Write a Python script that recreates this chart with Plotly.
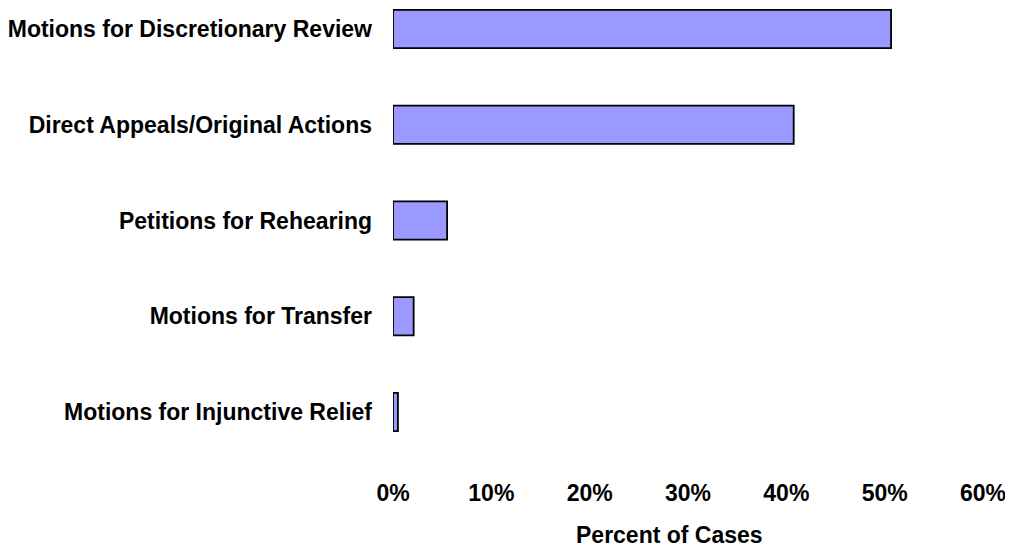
import plotly.graph_objects as go

categories = [
    "Motions for Discretionary Review",
    "Direct Appeals/Original Actions",
    "Petitions for Rehearing",
    "Motions for Transfer",
    "Motions for Injunctive Relief",
]
percent_of_cases = [50.65, 40.75, 5.5, 2.1, 0.5]
x_ticks = [0, 10, 20, 30, 40, 50, 60]
x_tick_labels = ["0%", "10%", "20%", "30%", "40%", "50%", "60%"]
x_title = "Percent of Cases"

FONT = "Liberation Sans, Arial, sans-serif"
FS = 23

fig = go.Figure(
    go.Bar(
        x=percent_of_cases,
        y=categories,
        orientation="h",
        marker=dict(color="#9999FF", line=dict(color="black", width=1.8)),
        width=0.4,
        hoverinfo="skip",
    )
)

fig.update_layout(
    width=1013,
    height=546,
    margin=dict(l=385, r=38, t=0, b=94, autoexpand=False),
    paper_bgcolor="white",
    plot_bgcolor="white",
    showlegend=False,
    font=dict(family=FONT, size=FS, color="black", weight="bold"),
    xaxis=dict(
        range=[0, 60],
        tickvals=x_ticks,
        ticktext=x_tick_labels,
        showgrid=False,
        zeroline=False,
        showline=False,
        ticks="",
        automargin=False,
        ticklabelstandoff=17,
        tickfont=dict(family=FONT, size=FS, color="black", weight="bold"),
    ),
    yaxis=dict(
        type="category",
        categoryorder="array",
        categoryarray=categories,
        range=[4.5013, -0.219],
        showgrid=False,
        zeroline=False,
        showline=False,
        ticks="",
        automargin=False,
        ticklabelstandoff=20,
        tickfont=dict(family=FONT, size=FS, color="black", weight="bold"),
    ),
    annotations=[
        dict(
            text=x_title,
            xref="paper",
            yref="paper",
            x=0.4686,
            y=-74.5 / 452,
            xanchor="center",
            yanchor="middle",
            showarrow=False,
            font=dict(family=FONT, size=FS, color="black", weight="bold"),
        )
    ],
)

fig.write_html("out.html")
